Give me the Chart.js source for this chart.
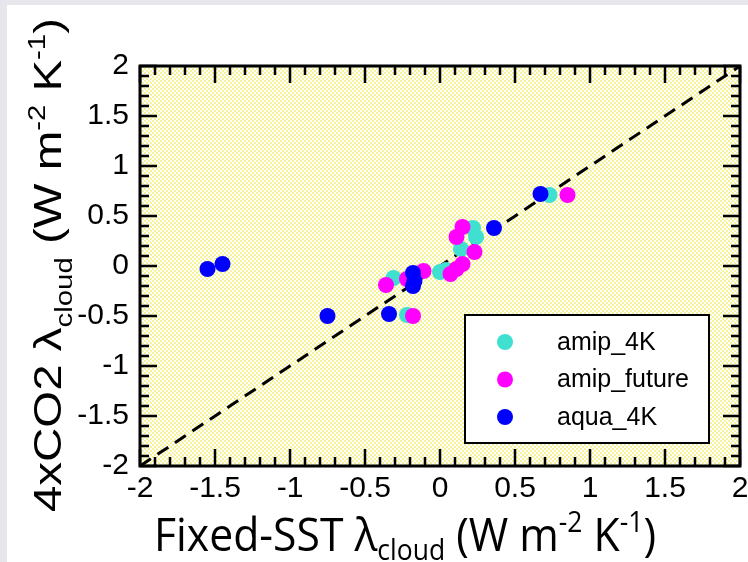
<!DOCTYPE html>
<html>
<head>
<meta charset="utf-8">
<script src="https://cdn.jsdelivr.net/npm/chart.js@4.4.1/dist/chart.umd.min.js"></script>
<style>
  html, body { margin: 0; padding: 0; background: #fff; }
  #wrap { width: 748px; height: 562px; }
</style>
</head>
<body>
<div id="wrap"><canvas id="c" width="748" height="562"></canvas></div>
<script>
'use strict';

// axis ticks (same on both axes)
const tickValues = [-2, -1.5, -1, -0.5, 0, 0.5, 1, 1.5, 2];
const tickLabels = ['-2', '-1.5', '-1', '-0.5', '0', '0.5', '1', '1.5', '2'];

const seriesNames = ['amip_4K', 'amip_future', 'aqua_4K'];
const seriesColors = ['#40e0d0', '#ff00ff', '#0000ff'];

// x = fixed-SST lambda_cloud, y = 4xCO2 lambda_cloud
const amip4kX = [0.73, 0.22, 0.24, 0.14, 0.00, 0.04, -0.31, -0.22];
const amip4kY = [0.71, 0.38, 0.29, 0.17, -0.06, -0.04, -0.12, -0.49];

const amipFutureX = [0.85, 0.15, 0.11, 0.23, 0.15, 0.11, 0.07, -0.11, -0.22, -0.36, -0.18];
const amipFutureY = [0.71, 0.39, 0.29, 0.14, 0.02, -0.03, -0.08, -0.05, -0.13, -0.19, -0.50];

const aqua4kX = [0.67, 0.36, -0.18, -0.17, -0.18, -0.34, -0.75, -1.55, -1.45];
const aqua4kY = [0.72, 0.38, -0.07, -0.15, -0.20, -0.48, -0.50, -0.03, 0.02];

// 1:1 line
const oneToOneX = [-2, 2];
const oneToOneY = [-2, 2];

const zip = (xs, ys) => xs.map((x, i) => ({ x: x, y: ys[i] }));
const tickText = v => {
    const i = tickValues.findIndex(t => Math.abs(t - v) < 1e-9);
    return i < 0 ? '' : tickLabels[i];
};

const xTitle = [['Fixed-SST \u03bb', 0], ['cloud', -1], [' (W m', 0], ['-2', 1], [' K', 0], ['-1', 1], [')', 0]];
const yTitle = [['4xCO2 \u03bb', 0], ['cloud', -1], [' (W m', 0], ['-2', 1], [' K', 0], ['-1', 1], [')', 0]];

function partFont(kind, size, family) {
    return (kind === 0 ? size : size * 0.62) + 'px "' + family + '"';
}

function richWidth(ctx, parts, size, family) {
    let w = 0;
    parts.forEach(([t, kind]) => {
        ctx.font = partFont(kind, size, family);
        w += ctx.measureText(t).width;
    });
    return w;
}

// draws text with sub/superscripts, stretched to a given length
function drawRich(ctx, parts, size, family, px, py, length, rotate, subDrop) {
    ctx.save();
    ctx.translate(px, py);
    if (rotate) ctx.rotate(-Math.PI / 2);
    const w = richWidth(ctx, parts, size, family);
    ctx.scale(length / w, 1);
    ctx.fillStyle = '#000';
    ctx.textAlign = 'left';
    ctx.textBaseline = 'alphabetic';
    let x = -w / 2;
    parts.forEach(([t, kind]) => {
        ctx.font = partFont(kind, size, family);
        const dy = kind < 0 ? size * subDrop : kind > 0 ? -size * 0.42 : 0;
        ctx.fillText(t, x, dy);
        x += ctx.measureText(t).width;
    });
    ctx.restore();
}

function dotPattern(ctx) {
    const c = document.createElement('canvas');
    c.width = 4;
    c.height = 4;
    const p = c.getContext('2d');
    p.fillStyle = '#ffffff';
    p.fillRect(0, 0, 4, 4);
    p.fillStyle = '#f6f39a';
    p.fillRect(0, 0, 2, 2);
    p.fillRect(2, 2, 2, 2);
    return ctx.createPattern(c, 'repeat');
}

const framePlugin = {
    id: 'frame',
    beforeDraw(chart) {
        const ctx = chart.ctx;
        const a = chart.chartArea;
        ctx.save();
        ctx.fillStyle = '#e6e6ec';
        ctx.fillRect(0, 0, chart.width, chart.height);
        ctx.fillStyle = '#fff';
        ctx.fillRect(7, 5, chart.width - 7, chart.height - 5);
        ctx.fillStyle = dotPattern(ctx);
        ctx.fillRect(a.left, a.top, a.right - a.left, a.bottom - a.top);
        ctx.restore();
    },
    afterDraw(chart) {
        const ctx = chart.ctx;
        const a = chart.chartArea;
        const xs = chart.scales.x;
        const ys = chart.scales.y;
        ctx.save();

        // inward ticks on all four sides, minor every 0.1
        ctx.strokeStyle = '#000';
        ctx.lineWidth = 2.5;
        ctx.beginPath();
        for (let i = 0; i <= 40; i++) {
            const len = i % 5 === 0 ? 17 : 9;
            const px = xs.getPixelForValue(xs.min + i * (xs.max - xs.min) / 40);
            const py = ys.getPixelForValue(ys.min + i * (ys.max - ys.min) / 40);
            ctx.moveTo(px, a.bottom); ctx.lineTo(px, a.bottom - len);
            ctx.moveTo(px, a.top); ctx.lineTo(px, a.top + len);
            ctx.moveTo(a.left, py); ctx.lineTo(a.left + len, py);
            ctx.moveTo(a.right, py); ctx.lineTo(a.right - len, py);
        }
        ctx.stroke();
        ctx.lineWidth = 3;
        ctx.strokeRect(a.left, a.top, a.right - a.left, a.bottom - a.top);

        // legend box
        ctx.fillStyle = '#fff';
        ctx.fillRect(465, 315, 244, 128);
        ctx.lineWidth = 2;
        ctx.strokeRect(465, 315, 244, 128);
        ctx.font = '25px "Liberation Sans"';
        ctx.textBaseline = 'middle';
        ctx.textAlign = 'left';
        seriesNames.forEach((name, i) => {
            const y = 342 + i * 37.5;
            ctx.fillStyle = seriesColors[i];
            ctx.beginPath();
            ctx.arc(505, y, 8, 0, Math.PI * 2);
            ctx.fill();
            ctx.fillStyle = '#000';
            ctx.fillText(name, 557, y + 1);
        });
        ctx.restore();

        // axis titles
        drawRich(ctx, xTitle, 46, 'Open Sans', 405, 551, 502, false, 0.2);
        drawRich(ctx, yTitle, 38, 'Liberation Sans', 61, 265, 494, true, 0.28);
    }
};

const tickFont = { family: 'Liberation Sans', size: 30 };

const seriesData = [zip(amip4kX, amip4kY), zip(amipFutureX, amipFutureY), zip(aqua4kX, aqua4kY)];

const datasets = seriesNames.map((name, i) => ({
    label: name,
    data: seriesData[i],
    pointRadius: 8,
    pointBorderWidth: 0,
    pointBackgroundColor: seriesColors[i],
    backgroundColor: seriesColors[i],
    order: 3 - i
}));
datasets.push({
    label: '1:1',
    data: zip(oneToOneX, oneToOneY),
    showLine: true,
    borderColor: '#000',
    borderWidth: 3,
    borderDash: [13, 8],
    pointRadius: 0,
    order: 5
});

new Chart(document.getElementById('c'), {
    type: 'scatter',
    data: { datasets: datasets },
    options: {
        responsive: false,
        animation: false,
        events: [],
        layout: { padding: { top: 66, right: 4, left: 0, bottom: 0 } },
        plugins: {
            legend: { display: false },
            tooltip: { enabled: false }
        },
        scales: {
            x: {
                type: 'linear',
                min: -2,
                max: 2,
                grid: { display: false, drawTicks: false },
                border: { display: false },
                ticks: { font: tickFont, color: '#000', padding: 5, maxRotation: 0, autoSkip: false, callback: tickText },
                afterBuildTicks: s => { s.ticks = tickValues.map(v => ({ value: v })); },
                afterFit: s => { s.height = 96; s.paddingLeft = 0; s.paddingRight = 0; }
            },
            y: {
                type: 'linear',
                min: -2,
                max: 2,
                grid: { display: false, drawTicks: false },
                border: { display: false },
                ticks: { font: tickFont, color: '#000', padding: 11, autoSkip: false, callback: tickText },
                afterBuildTicks: s => { s.ticks = tickValues.map(v => ({ value: v })); },
                afterFit: s => { s.width = 140; s.paddingTop = 0; s.paddingBottom = 0; }
            }
        }
    },
    plugins: [framePlugin]
});
</script>
</body>
</html>
